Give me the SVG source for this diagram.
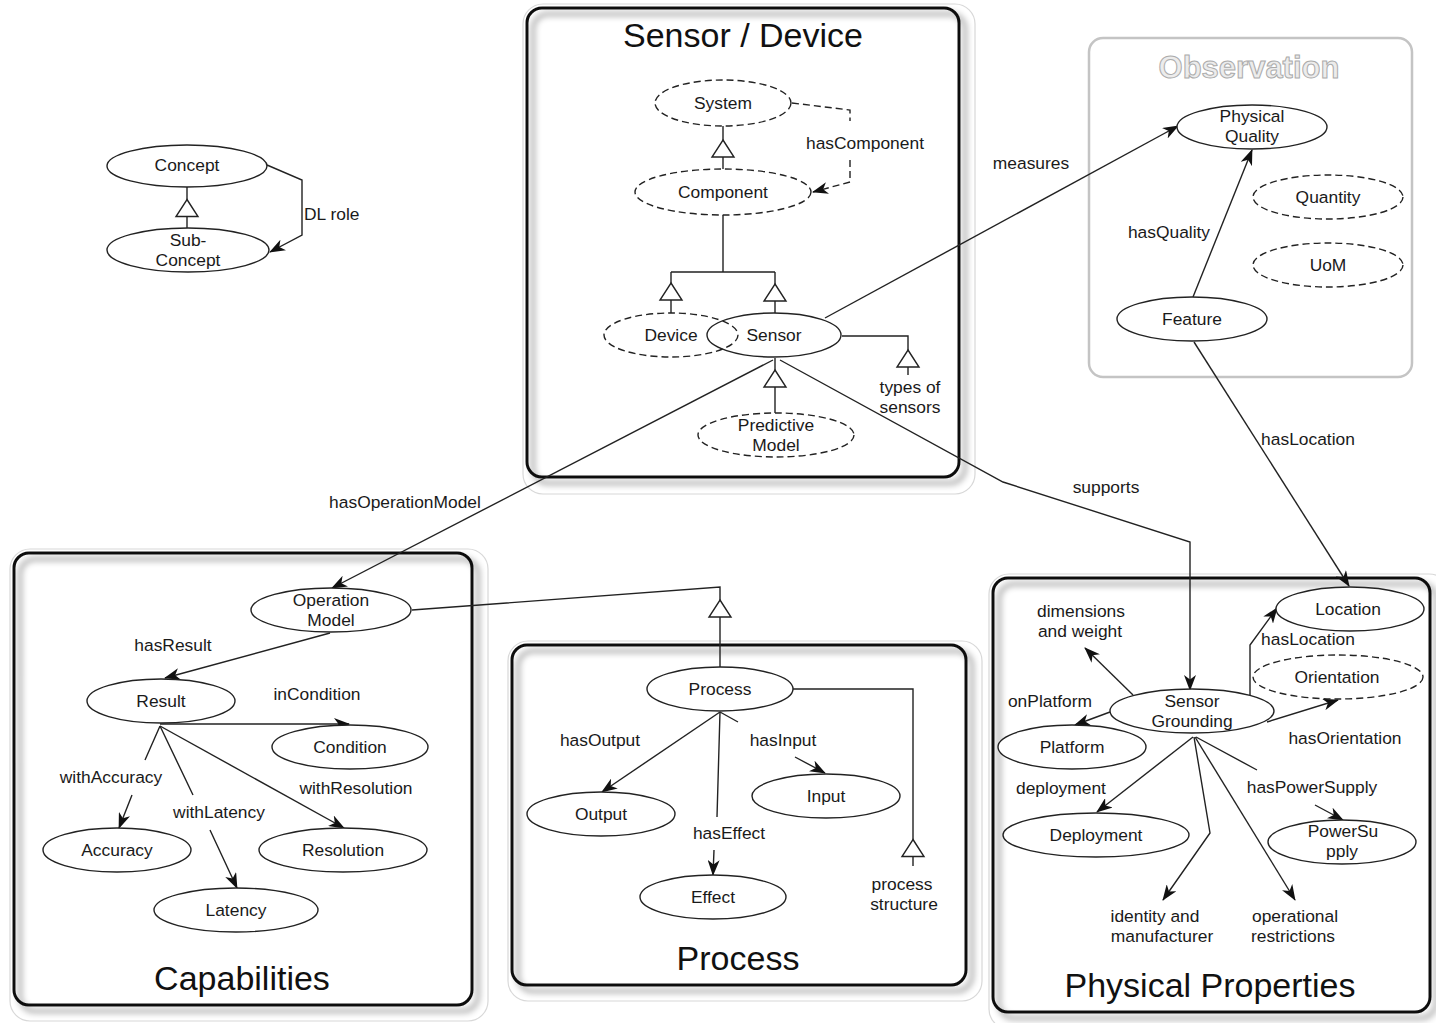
<svg xmlns="http://www.w3.org/2000/svg" xmlns:xlink="http://www.w3.org/1999/xlink" width="1436" height="1023" viewBox="0 0 1436 1023">
  <style>
    text { font-family: "Liberation Sans", Arial, sans-serif; fill: #1a1a1a; text-anchor: middle; }
    .lbl { font-size: 17.4px; }
    .title { font-size: 34px; fill: #111; }
    .obs-title { font-size: 31px; fill: #ececec; stroke: #ababab; stroke-width: 1; font-weight: bold; }
    .box { fill: none; stroke: #111; stroke-width: 3; }
    .halo { fill: none; stroke: #d8d8d8; stroke-width: 1.2; }
    .obs-box { fill: none; stroke: #c4c4c4; stroke-width: 2.5; }
    .node { fill: #fff; stroke: #222; stroke-width: 1.4; }
    .dashed { stroke-dasharray: 7 4; }
    .edge { fill: none; stroke: #222; stroke-width: 1.4; }
    .arrow { marker-end: url(#arr); }
    .tri { fill: #fff; stroke: #222; stroke-width: 1.4; }
  </style>
  <defs>
    <marker id="arr" viewBox="0 0 16 12" refX="15" refY="6" markerWidth="16" markerHeight="12" markerUnits="userSpaceOnUse" orient="auto">
      <path d="M0,0 L16,6 L0,12 L4.5,6 z" fill="#111"/>
    </marker>
    <path id="gen" class="tri" d="M0,-8.5 L11,8.5 L-11,8.5 z"/>
    <filter id="shadow" x="-10%" y="-10%" width="125%" height="125%">
      <feDropShadow dx="6" dy="6" stdDeviation="3" flood-color="#000" flood-opacity="0.45"/>
    </filter>
  </defs>

  <rect width="1436" height="1023" fill="#fff"/>

  <!-- module frames -->
  <g id="containers">
    <g id="box-sensor-device">
      <rect class="halo" x="523" y="4" width="452" height="490" rx="20"/>
      <rect class="box" x="527" y="8" width="432" height="469" rx="15" filter="url(#shadow)"/>
      <text class="title" x="743" y="47">Sensor / Device</text>
    </g>
    <g id="box-observation">
      <rect class="obs-box" x="1089" y="38" width="323" height="339" rx="14"/>
      <text class="obs-title" x="1249" y="78">Observation</text>
    </g>
    <g id="box-capabilities">
      <rect class="halo" x="10" y="549" width="478" height="472" rx="20"/>
      <rect class="box" x="14" y="553" width="458" height="452" rx="15" filter="url(#shadow)"/>
      <text class="title" x="242" y="990">Capabilities</text>
    </g>
    <g id="box-process">
      <rect class="halo" x="508" y="641" width="474" height="360" rx="20"/>
      <rect class="box" x="512" y="645" width="454" height="340" rx="15" filter="url(#shadow)"/>
      <text class="title" x="738" y="970">Process</text>
    </g>
    <g id="box-physical">
      <rect class="halo" x="989" y="574" width="460" height="455" rx="20"/>
      <rect class="box" x="993" y="578" width="437" height="434" rx="15" filter="url(#shadow)"/>
      <text class="title" x="1210" y="997">Physical Properties</text>
    </g>
  </g>

  <!-- connectors -->
  <g id="connectors">
    <!-- legend -->
    <line class="edge" x1="187" y1="187" x2="187" y2="228"/>
    <path class="edge arrow" d="M267,165 L302,180 L302,235 L270,252"/>

    <!-- sensor / device -->
    <line class="edge" x1="723" y1="125" x2="723" y2="169"/>
    <path class="edge dashed" d="M792,103 L850,110 L850,121"/>
    <path class="edge dashed arrow" d="M850,160 L850,182 L813,192"/>
    <path class="edge" d="M723,215 L723,272 M671,272 L775,272 M671,272 L671,313 M775,272 L775,313"/>
    <line class="edge" x1="775" y1="358" x2="775" y2="413"/>
    <path class="edge" d="M842,336 L908,336 L908,375"/>

    <!-- cross-module -->
    <path class="edge arrow" d="M825,318 L1178,126"/>
    <path class="edge arrow" d="M773,360 L332,588"/>
    <path class="edge arrow" d="M780,360 L1003,482 L1190,542 L1190,690"/>
    <path class="edge arrow" d="M1193,297 L1252,150"/>
    <path class="edge arrow" d="M1194,342 L1349,586"/>

    <!-- capabilities -->
    <path class="edge arrow" d="M330,633 L165,678"/>
    <path class="edge arrow" d="M160,724 L349,724"/>
    <path class="edge arrow" d="M160,726 L145,760 M132,795 L119,828"/>
    <path class="edge arrow" d="M160,726 L193,795 M210,830 L237,888"/>
    <path class="edge arrow" d="M160,726 L344,828"/>
    <path class="edge" d="M412,610 L720,587 L720,668"/>

    <!-- process -->
    <path class="edge arrow" d="M720,712 L602,792"/>
    <path class="edge arrow" d="M720,712 L717,817 M714,850 L713,875"/>
    <path class="edge arrow" d="M720,712 L738,722 M795,757 L825,773"/>
    <path class="edge" d="M793,689 L913,689 L913,866"/>

    <!-- physical properties -->
    <path class="edge arrow" d="M1133,695 L1085,648"/>
    <path class="edge arrow" d="M1110,712 L1075,725"/>
    <path class="edge arrow" d="M1250,695 L1250,645 L1277,608"/>
    <path class="edge arrow" d="M1267,722 L1338,700"/>
    <path class="edge arrow" d="M1193,737 L1097,812"/>
    <path class="edge arrow" d="M1194,737 L1210,833 L1163,900"/>
    <path class="edge arrow" d="M1195,737 L1295,900"/>
    <path class="edge arrow" d="M1196,737 L1257,770 M1315,805 L1343,820"/>

    <!-- generalisation heads -->
    <use href="#gen" x="187" y="208"/>
    <use href="#gen" x="723" y="148.5"/>
    <use href="#gen" x="671" y="291.5"/>
    <use href="#gen" x="775" y="292.5"/>
    <use href="#gen" x="775" y="378.5"/>
    <use href="#gen" x="908" y="358.5"/>
    <use href="#gen" x="720" y="608.5"/>
    <use href="#gen" x="913" y="848"/>
  </g>

  <!-- edge labels -->
  <g id="labels">
    <text class="lbl" x="304" y="220" style="text-anchor:start">DL role</text>
    <text class="lbl" x="865" y="149">hasComponent</text>
    <text class="lbl" x="910" y="393">types of</text>
    <text class="lbl" x="910" y="413">sensors</text>
    <text class="lbl" x="1031" y="169">measures</text>
    <text class="lbl" x="1169" y="238">hasQuality</text>
    <text class="lbl" x="1308" y="445">hasLocation</text>
    <text class="lbl" x="1106" y="493">supports</text>
    <text class="lbl" x="405" y="508">hasOperationModel</text>
    <text class="lbl" x="173" y="651">hasResult</text>
    <text class="lbl" x="317" y="700">inCondition</text>
    <text class="lbl" x="111" y="783">withAccuracy</text>
    <text class="lbl" x="219" y="818">withLatency</text>
    <text class="lbl" x="356" y="794">withResolution</text>
    <text class="lbl" x="600" y="746">hasOutput</text>
    <text class="lbl" x="783" y="746">hasInput</text>
    <text class="lbl" x="729" y="839">hasEffect</text>
    <text class="lbl" x="902" y="890">process</text>
    <text class="lbl" x="904" y="910">structure</text>
    <text class="lbl" x="1081" y="617">dimensions</text>
    <text class="lbl" x="1080" y="637">and weight</text>
    <text class="lbl" x="1050" y="707">onPlatform</text>
    <text class="lbl" x="1308" y="645">hasLocation</text>
    <text class="lbl" x="1345" y="744">hasOrientation</text>
    <text class="lbl" x="1061" y="794">deployment</text>
    <text class="lbl" x="1312" y="793">hasPowerSupply</text>
    <text class="lbl" x="1155" y="922">identity and</text>
    <text class="lbl" x="1162" y="942">manufacturer</text>
    <text class="lbl" x="1295" y="922">operational</text>
    <text class="lbl" x="1293" y="942">restrictions</text>
  </g>

  <!-- legend nodes -->
  <g id="node-concept"><ellipse class="node" cx="187" cy="166" rx="80" ry="21"/><text class="lbl" x="187" y="171">Concept</text></g>
  <g id="node-subconcept"><ellipse class="node" cx="188" cy="250" rx="81" ry="22"/><text class="lbl" x="188" y="246">Sub-</text><text class="lbl" x="188" y="266">Concept</text></g>

  <!-- sensor / device nodes -->
  <g id="node-system"><ellipse class="node dashed" cx="723" cy="103" rx="68" ry="23"/><text class="lbl" x="723" y="109">System</text></g>
  <g id="node-component"><ellipse class="node dashed" cx="723" cy="192" rx="88" ry="23"/><text class="lbl" x="723" y="198">Component</text></g>
  <g id="node-device"><ellipse class="node dashed" cx="671" cy="335" rx="67" ry="22"/><text class="lbl" x="671" y="341">Device</text></g>
  <g id="node-sensor"><ellipse class="node" style="fill:none" cx="774" cy="335" rx="67" ry="22"/><text class="lbl" x="774" y="341">Sensor</text></g>
  <g id="node-predictive-model"><ellipse class="node dashed" cx="776" cy="435" rx="78" ry="22"/><text class="lbl" x="776" y="431">Predictive</text><text class="lbl" x="776" y="451">Model</text></g>

  <!-- observation nodes -->
  <g id="node-physical-quality"><ellipse class="node" cx="1252" cy="127" rx="75" ry="22"/><text class="lbl" x="1252" y="122">Physical</text><text class="lbl" x="1252" y="142">Quality</text></g>
  <g id="node-quantity"><ellipse class="node dashed" cx="1328" cy="197" rx="75" ry="22"/><text class="lbl" x="1328" y="203">Quantity</text></g>
  <g id="node-uom"><ellipse class="node dashed" cx="1328" cy="265" rx="75" ry="22"/><text class="lbl" x="1328" y="271">UoM</text></g>
  <g id="node-feature"><ellipse class="node" cx="1192" cy="319" rx="75" ry="22"/><text class="lbl" x="1192" y="325">Feature</text></g>

  <!-- capabilities nodes -->
  <g id="node-operation-model"><ellipse class="node" cx="331" cy="610" rx="80" ry="22"/><text class="lbl" x="331" y="606">Operation</text><text class="lbl" x="331" y="626">Model</text></g>
  <g id="node-result"><ellipse class="node" cx="161" cy="701" rx="74" ry="22"/><text class="lbl" x="161" y="707">Result</text></g>
  <g id="node-condition"><ellipse class="node" cx="350" cy="747" rx="78" ry="22"/><text class="lbl" x="350" y="753">Condition</text></g>
  <g id="node-accuracy"><ellipse class="node" cx="117" cy="850" rx="74" ry="22"/><text class="lbl" x="117" y="856">Accuracy</text></g>
  <g id="node-resolution"><ellipse class="node" cx="343" cy="850" rx="84" ry="22"/><text class="lbl" x="343" y="856">Resolution</text></g>
  <g id="node-latency"><ellipse class="node" cx="236" cy="910" rx="82" ry="22"/><text class="lbl" x="236" y="916">Latency</text></g>

  <!-- process nodes -->
  <g id="node-process"><ellipse class="node" cx="720" cy="689" rx="73" ry="22"/><text class="lbl" x="720" y="695">Process</text></g>
  <g id="node-output"><ellipse class="node" cx="601" cy="814" rx="74" ry="22"/><text class="lbl" x="601" y="820">Output</text></g>
  <g id="node-input"><ellipse class="node" cx="826" cy="796" rx="74" ry="22"/><text class="lbl" x="826" y="802">Input</text></g>
  <g id="node-effect"><ellipse class="node" cx="713" cy="897" rx="73" ry="22"/><text class="lbl" x="713" y="903">Effect</text></g>

  <!-- physical property nodes -->
  <g id="node-sensor-grounding"><ellipse class="node" cx="1192" cy="711" rx="82" ry="22"/><text class="lbl" x="1192" y="707">Sensor</text><text class="lbl" x="1192" y="727">Grounding</text></g>
  <g id="node-location"><ellipse class="node" cx="1350" cy="609" rx="74" ry="22"/><text class="lbl" x="1348" y="615">Location</text></g>
  <g id="node-orientation"><ellipse class="node dashed" cx="1338" cy="677" rx="85" ry="22"/><text class="lbl" x="1337" y="683">Orientation</text></g>
  <g id="node-platform"><ellipse class="node" cx="1072" cy="747" rx="74" ry="22"/><text class="lbl" x="1072" y="753">Platform</text></g>
  <g id="node-deployment"><ellipse class="node" cx="1096" cy="835" rx="93" ry="22"/><text class="lbl" x="1096" y="841">Deployment</text></g>
  <g id="node-power-supply"><ellipse class="node" cx="1342" cy="842" rx="74" ry="22"/><text class="lbl" x="1343" y="837">PowerSu</text><text class="lbl" x="1342" y="857">pply</text></g>
</svg>
